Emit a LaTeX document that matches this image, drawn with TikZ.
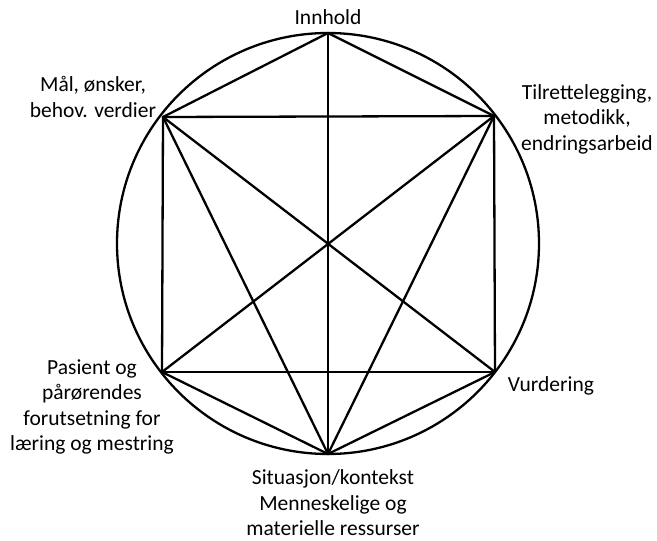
\documentclass[tikz,border=0pt]{standalone}
\usepackage{fontspec}
\setmainfont{Carlito}
\usetikzlibrary{positioning}
\tikzset{
  edge/.style={line width=2.3pt, line cap=round, line join=round},
  rim/.style={line width=2.3pt},
  lbl/.style={align=center, inner sep=0pt, font=\fontsize{21.5}{25.5}\selectfont}
}
\begin{document}
\begin{tikzpicture}[x=1pt,y=-1pt]
    \useasboundingbox (0,0) rectangle (657,541);

    % === Outer circle ===
    \draw[rim] (328,243.5) ellipse (211 and 210.5);

    % corner points
    \coordinate (top) at (328,33);
    \coordinate (ul) at (163,117);
    \coordinate (ur) at (494,116);
    \coordinate (ll) at (162,372);
    \coordinate (lr) at (495,372);
    \coordinate (bot) at (328,454);

    % === Hexagon and inner lines ===
    \draw[edge] (top) -- (ur) -- (lr) -- (bot) -- (ll) -- (ul) -- cycle;
    \draw[edge] (ul) -- (ur);
    \draw[edge] (ll) -- (lr);
    \draw[edge] (top) -- (bot);
    \draw[edge] (ul) -- (lr);
    \draw[edge] (ur) -- (ll);
    \draw[edge] (ul) -- (bot);
    \draw[edge] (ur) -- (bot);

    % === Labels ===
    \node[lbl] (innhold) at (328,17) {Innhold};
    \node[lbl] (maal) at (93,97) {Mål, ønsker,\\behov. verdier};
    \node[lbl] (tilrett) at (587,119) {Tilrettelegging,\\metodikk,\\endringsarbeid};
    \node[lbl] (pasient) at (92,407) {Pasient og\\pårørendes\\forutsetning for\\læring og mestring};
    \node[lbl] (vurd) at (551,386) {Vurdering};
    \node[lbl] (situasjon) at (333,503) {Situasjon/kontekst\\Menneskelige og\\materielle ressurser};

\end{tikzpicture}
\end{document}
